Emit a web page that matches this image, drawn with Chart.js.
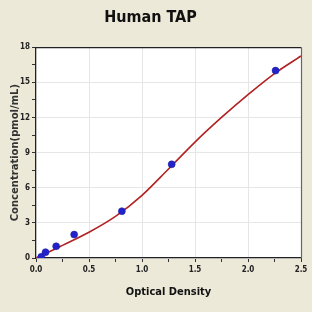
<!DOCTYPE html>
<html><head><meta charset="utf-8">
<script src="https://cdn.jsdelivr.net/npm/chart.js@4.4.1/dist/chart.umd.min.js"></script>
<style>html,body{margin:0;padding:0;background:#ECE9D8;}#wrap{width:312px;height:312px;}</style>
</head><body><div id="wrap"><canvas id="c" width="312" height="312"></canvas></div>
<script>
const odValues = [0.05, 0.09, 0.19, 0.36, 0.81, 1.28, 2.26];
const concValues = [0.1, 0.5, 1.0, 2.0, 4.0, 8.0, 16.0];
const curveOD = [0, 0.1, 0.25, 0.5, 0.75, 1.0, 1.25, 1.5, 1.75, 2.0, 2.25, 2.5];
const curveConc = [0, 0.42, 1.08, 2.2, 3.55, 5.35, 7.6, 9.9, 12.0, 13.95, 15.75, 17.25];
const yTicks = [0, 3, 6, 9, 12, 15, 18];
const xTicks = [0.0, 0.5, 1.0, 1.5, 2.0, 2.5];

const narrow = "'DejaVu Sans Condensed', 'Liberation Sans Narrow', 'Arial Narrow', sans-serif";
const frame = {
  id: 'frame',
  afterDraw(chart) {
    const a = chart.chartArea, c = chart.ctx;
    c.save();
    c.strokeStyle = '#222'; c.lineWidth = 1.2;
    c.beginPath(); c.moveTo(a.left, a.top + 0.5); c.lineTo(a.right, a.top + 0.5); c.stroke();
    c.strokeStyle = '#666';
    c.beginPath(); c.moveTo(a.right + 0.5, a.top); c.lineTo(a.right + 0.5, a.bottom); c.stroke();
    c.restore();
  }
};
const bg = {
  id: 'bg',
  beforeDraw(chart) {
    const c = chart.ctx, a = chart.chartArea;
    c.save(); c.fillStyle = '#ECE9D8'; c.fillRect(0, 0, chart.width, chart.height);
    c.fillStyle = '#ffffff'; c.fillRect(a.left, a.top, a.right - a.left, a.bottom - a.top); c.restore();
  }
};
new Chart(document.getElementById('c'), {
  type: 'scatter',
  data: {
    datasets: [
      { type: 'line', data: curveOD.map((x, i) => ({x, y: curveConc[i]})), borderColor: '#B22222', borderWidth: 1.6,
        pointRadius: 0, cubicInterpolationMode: 'monotone', fill: false, order: 2 },
      { data: odValues.map((x, i) => ({x, y: concValues[i]})), backgroundColor: '#2222CC', borderColor: '#1a1a9a',
        borderWidth: 0.5, pointRadius: 3.5, order: 1 }
    ]
  },
  options: {
    responsive: false, animation: false,
    layout: { padding: { left: 0, right: 11, top: 0, bottom: 0 } },
    plugins: {
      legend: { display: false }, tooltip: { enabled: false },
      title: { display: true, text: 'Human TAP', color: '#111',
        font: { family: narrow, size: 16, weight: 'bold' }, padding: { top: 8, bottom: 20 } }
    },
    scales: {
      x: {
        type: 'linear', min: 0, max: 2.5,
        afterBuildTicks: (s) => { s.ticks = []; for (let i = 0; i <= 10; i++) s.ticks.push({ value: i * 0.25 }); },
        ticks: { autoSkip: false, maxRotation: 0, color: '#222', padding: 3,
          font: { family: narrow, size: 8, weight: 'bold' },
          callback: (v) => xTicks.some(t => Math.abs(t - v) < 1e-6) ? Number(v).toFixed(1) : '' },
        grid: { color: (ctx) => (ctx.tick && xTicks.some(t => Math.abs(t - ctx.tick.value) < 1e-6)) ? '#e6e6e6' : 'rgba(0,0,0,0)',
          tickColor: '#333', tickLength: 4, lineWidth: 1 },
        border: { color: '#222', width: 1.2 },
        title: { display: true, text: 'Optical Density', color: '#111', font: { family: narrow, size: 11, weight: 'bold' }, padding: { top: 6, bottom: 13 } },
        afterFit: (s) => { s.height = 54; }
      },
      y: {
        type: 'linear', min: 0, max: 18,
        afterBuildTicks: (s) => { s.ticks = []; for (let i = 0; i <= 12; i++) s.ticks.push({ value: i * 1.5 }); },
        ticks: { autoSkip: false, color: '#222', padding: 2,
          font: { family: narrow, size: 8, weight: 'bold' },
          callback: (v) => yTicks.includes(v) ? String(v) : '' },
        grid: { color: (ctx) => (ctx.tick && yTicks.includes(ctx.tick.value)) ? '#e6e6e6' : 'rgba(0,0,0,0)',
          tickColor: '#333', tickLength: 4, lineWidth: 1 },
        border: { color: '#222', width: 1.2 },
        title: { display: true, text: 'Concentration(pmol/mL)', color: '#333', font: { family: "'DejaVu Sans', sans-serif", size: 10, weight: 'bold' }, padding: { top: 9, bottom: 0 } },
        afterFit: (s) => { s.width = 36; }
      }
    }
  },
  plugins: [bg, frame]
});
</script></body></html>
